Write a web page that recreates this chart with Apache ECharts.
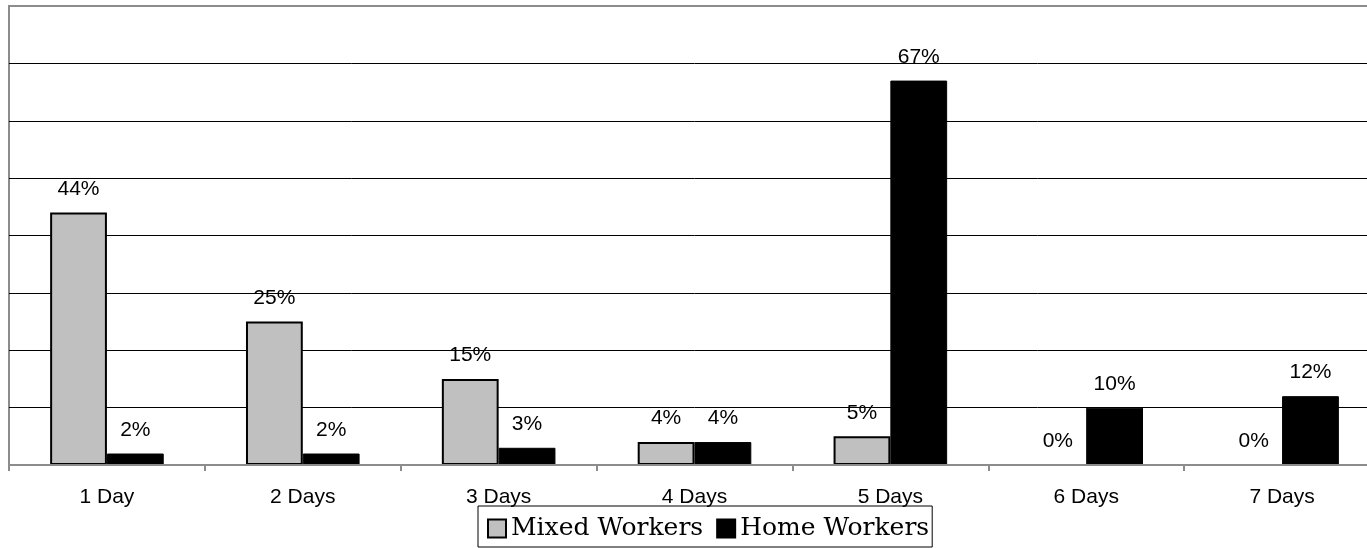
<!DOCTYPE html>
<html>
<head>
<meta charset="utf-8">
<script src="https://cdn.jsdelivr.net/npm/echarts@6/dist/echarts.min.js"></script>
<style>html,body{margin:0;padding:0;background:#fff;overflow:hidden;}#c{width:1380px;height:548px;}</style>
</head>
<body>
<div id="c"></div>
<script>
var categories = ['1 Day','2 Days','3 Days','4 Days','5 Days','6 Days','7 Days'];
var mixedWorkers = [44, 25, 15, 4, 5, 0, 0];
var homeWorkers = [2, 2, 3, 4, 67, 10, 12];
var seriesNames = ['Mixed Workers', 'Home Workers'];

var chart = echarts.init(document.getElementById('c'));
var labelCfg = {
  show: true, position: 'top', distance: 13,
  formatter: '{c}%', fontFamily: 'Liberation Sans', fontSize: 21, color: '#000'
};
chart.setOption({
  animation: false,
  grid: {
    left: 9, top: 6, right: 0, bottom: 83,
    show: true, borderColor: '#8c8c8c', borderWidth: 2, backgroundColor: 'transparent'
  },
  legend: {
    data: seriesNames,
    top: 506, left: 478,
    backgroundColor: '#fff',
    borderColor: '#000', borderWidth: 1,
    padding: [10, 3, 6, 9],
    icon: 'rect',
    itemWidth: 18, itemHeight: 18, itemGap: 13,
    itemStyle: { borderColor: '#000', borderWidth: 2 },
    textStyle: { fontFamily: 'DejaVu Serif', fontSize: 25, color: '#000' }
  },
  xAxis: {
    type: 'category', data: categories,
    axisLine: { lineStyle: { color: '#8c8c8c', width: 2 } },
    axisTick: { show: true, length: 6, lineStyle: { color: '#8c8c8c', width: 2 } },
    axisLabel: { margin: 22, fontFamily: 'Liberation Sans', fontSize: 21, color: '#000' },
    z: 5
  },
  yAxis: {
    type: 'value', min: 0, max: 80, interval: 10,
    axisLine: { show: false }, axisTick: { show: false }, axisLabel: { show: false },
    splitLine: { lineStyle: { color: ['#000','#000','#000','#000','#000','#000','#000','#000','#8c8c8c'], width: 1 } }
  },
  series: [
    {
      name: seriesNames[0], type: 'bar', barGap: '0%', barCategoryGap: '42%',
      data: mixedWorkers.map(function (v) { return v === 0 ? { value: v, itemStyle: { borderWidth: 0 } } : v; }),
      itemStyle: { color: '#c0c0c0', borderColor: '#000', borderWidth: 2 },
      label: labelCfg
    },
    {
      name: seriesNames[1], type: 'bar',
      data: homeWorkers,
      itemStyle: { color: '#000', borderColor: '#000', borderWidth: 1 },
      label: labelCfg
    }
  ]
});
</script>
</body>
</html>
